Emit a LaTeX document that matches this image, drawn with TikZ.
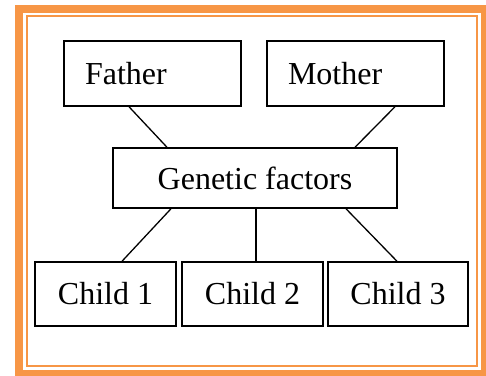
\documentclass[tikz,border=0pt]{standalone}
\usepackage{fontspec}
\setmainfont{Liberation Serif}
\usepackage{xcolor}
\definecolor{frameorange}{HTML}{F79646}

\begin{document}
\begin{tikzpicture}[x=1pt, y=-1pt, line width=1.5pt,
    box/.style={draw, minimum height=64pt, inner sep=0pt, font=\fontsize{32}{37}\selectfont},
    parent/.style={box, minimum height=65pt, text width=135pt, inner xsep=21pt, align=left},
    link/.style={line width=1.3pt}]
  \useasboundingbox (0,0) rectangle (486,375);
  \clip (0,0) rectangle (486,375);
  % frame
  \draw[frameorange, line width=8pt] (19,9) rectangle (485,374);
  \draw[frameorange, line width=2pt] (27,16) rectangle (477,366);
  % parents
  \node[parent] (father) at (152.5,73.5) {Father};
  \node[parent] (mother) at (355.5,73.5) {Mother};
  % genetic factors
  \node[box, minimum width=284pt, minimum height=60pt] (genes) at (255,178) {Genetic factors};
  % children
  \node[box, minimum width=141pt] (child1) at (105.5,294) {Child 1};
  \node[box, minimum width=141pt] (child2) at (252.5,294) {Child 2};
  \node[box, minimum width=140pt] (child3) at (398,294) {Child 3};
  % links
  \draw[link] ([xshift=-23.5pt]father.south) -- ([xshift=-88pt]genes.north);
  \draw[link] ([xshift=39.5pt]mother.south) -- ([xshift=100pt]genes.north);
  \draw[link] ([xshift=-84pt]genes.south) -- ([xshift=16.5pt]child1.north);
  \draw[link] ([xshift=1pt]genes.south) -- ([xshift=3.5pt]child2.north);
  \draw[link] ([xshift=91pt]genes.south) -- ([xshift=-1pt]child3.north);
\end{tikzpicture}
\end{document}
